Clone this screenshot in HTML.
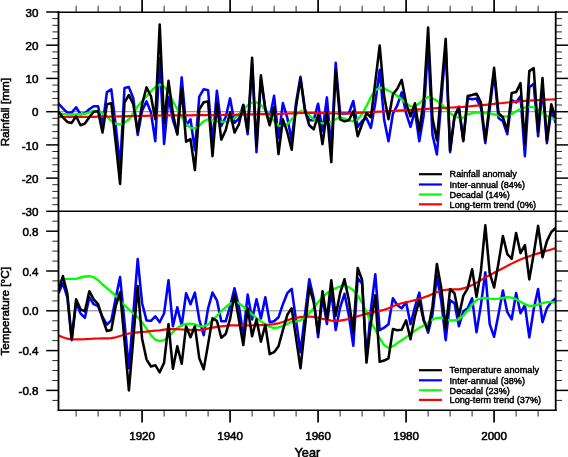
<!DOCTYPE html>
<html><head><meta charset="utf-8"><title>Rainfall and temperature decomposition</title>
<style>
html,body{margin:0;padding:0;background:#fff;}
body{width:568px;height:457px;overflow:hidden;font-family:"Liberation Sans",sans-serif;}
svg{display:block;will-change:transform;}
</style></head><body>
<svg width="568" height="457" viewBox="0 0 568 457">
<rect width="568" height="457" fill="#fff"/>
<line x1="58.5" y1="111.7" x2="555.7" y2="111.7" stroke="#808080" stroke-width="1.0"/>
<line x1="58.5" y1="310.8" x2="555.7" y2="310.8" stroke="#808080" stroke-width="1.0"/>
<clipPath id="c1"><rect x="58.5" y="12.0" width="497.2" height="199.3"/></clipPath>
<clipPath id="c2"><rect x="58.5" y="211.3" width="497.2" height="199.0"/></clipPath>
<g clip-path="url(#c1)">
<polyline points="58.5,103.7 62.9,108.3 67.3,112.6 71.7,112.6 76.1,107.3 80.5,114.3 84.9,113.3 89.3,109.3 93.7,106.3 98.1,106.3 102.5,125.9 106.9,92.1 111.3,89.4 115.7,125.4 120.1,166.5 124.5,88.1 128.9,87.1 133.3,98.2 137.7,134.9 142.1,110.7 146.5,101.4 150.9,112.2 155.3,141.2 159.7,58.2 164.1,143.9 168.5,97.0 172.9,120.0 177.3,133.3 181.7,77.4 186.1,125.5 190.5,119.3 194.9,150.2 199.3,96.7 203.7,89.2 208.1,90.2 212.5,144.1 216.9,90.7 221.3,125.9 225.7,117.0 230.1,98.4 234.5,122.8 238.9,118.6 243.3,104.8 247.7,134.2 252.1,63.9 256.5,152.2 260.9,79.4 265.3,108.8 269.7,118.1 274.1,95.7 278.5,137.9 282.9,103.0 287.3,117.8 291.7,140.6 296.1,102.2 300.5,76.8 304.9,108.9 309.3,120.2 313.7,120.2 318.1,103.7 322.5,131.1 326.9,97.4 331.3,150.8 335.7,62.8 340.1,113.6 344.5,113.5 348.9,113.3 353.3,101.0 357.7,127.0 362.1,121.0 366.5,118.2 370.9,127.9 375.3,102.7 379.7,69.8 384.1,119.5 388.5,141.2 392.9,113.7 397.3,105.3 401.7,92.4 406.1,113.2 410.5,126.9 414.9,110.7 419.3,141.2 423.7,115.2 428.1,45.1 432.5,134.7 436.9,154.5 441.3,100.5 445.7,46.1 450.1,152.2 454.5,116.3 458.9,106.6 463.3,140.1 467.7,98.2 472.1,99.2 476.5,98.6 480.9,107.7 485.3,143.2 489.7,109.0 494.1,72.9 498.5,117.9 502.9,121.3 507.3,134.2 511.7,100.0 516.1,102.4 520.5,96.2 524.9,156.2 529.3,87.2 533.7,83.8 538.1,136.2 542.5,88.2 546.9,143.2 551.3,110.2 555.7,122.9" fill="none" stroke="#0000ff" stroke-width="2.55" stroke-linejoin="round" stroke-linecap="butt"/>
<polyline points="58.5,113.3 62.9,114.0 67.3,114.3 71.7,114.5 76.1,114.3 80.5,114.0 84.9,113.6 89.3,112.3 93.7,111.0 98.1,111.3 102.5,113.3 106.9,116.6 111.3,121.0 115.7,123.9 120.1,124.3 124.5,122.6 128.9,119.3 133.3,113.3 137.7,106.3 142.1,101.0 146.5,96.4 150.9,91.4 155.3,87.1 159.7,84.4 164.1,86.7 168.5,91.7 172.9,101.4 177.3,109.3 181.7,117.3 186.1,124.3 190.5,127.9 194.9,128.3 199.3,125.6 203.7,121.3 208.1,119.3 212.5,120.3 216.9,121.3 221.3,121.9 225.7,121.6 230.1,121.0 234.5,118.3 238.9,114.3 243.3,109.3 247.7,105.3 252.1,102.7 256.5,102.3 260.9,105.0 265.3,109.7 269.7,116.3 274.1,121.3 278.5,125.6 282.9,125.9 287.3,124.3 291.7,119.3 296.1,114.3 300.5,111.3 304.9,111.7 309.3,115.3 313.7,119.3 318.1,122.3 322.5,123.3 326.9,122.6 331.3,121.3 335.7,119.3 340.1,117.3 344.5,118.6 348.9,120.3 353.3,121.3 357.7,119.6 362.1,114.0 366.5,106.0 370.9,97.0 375.3,90.4 379.7,87.7 384.1,88.4 388.5,90.7 392.9,93.0 397.3,96.0 401.7,99.4 406.1,103.3 410.5,106.3 414.9,106.3 419.3,103.3 423.7,99.4 428.1,97.0 432.5,98.4 436.9,100.7 441.3,104.3 445.7,108.3 450.1,113.3 454.5,116.0 458.9,118.0 463.3,117.6 467.7,114.6 472.1,113.0 476.5,112.6 480.9,112.6 485.3,113.0 489.7,113.3 494.1,114.3 498.5,115.3 502.9,116.3 507.3,116.3 511.7,114.3 516.1,111.3 520.5,109.0 524.9,107.3 529.3,106.7 533.7,107.3 538.1,109.7 542.5,113.3 546.9,116.0 551.3,118.0 555.7,119.3" fill="none" stroke="#00ff00" stroke-width="2.35" stroke-linejoin="round" stroke-linecap="butt"/>
<polyline points="58.5,117.0 62.9,117.0 67.3,116.9 71.7,116.9 76.1,116.9 80.5,116.9 84.9,116.8 89.3,116.8 93.7,116.8 98.1,116.7 102.5,116.7 106.9,116.6 111.3,116.6 115.7,116.5 120.1,116.4 124.5,116.3 128.9,116.2 133.3,116.1 137.7,116.0 142.1,115.9 146.5,115.8 150.9,115.7 155.3,115.6 159.7,115.5 164.1,115.4 168.5,115.3 172.9,115.3 177.3,115.3 181.7,115.3 186.1,115.3 190.5,115.3 194.9,115.2 199.3,115.2 203.7,115.2 208.1,115.2 212.5,115.1 216.9,115.1 221.3,115.0 225.7,114.9 230.1,114.8 234.5,114.8 238.9,114.7 243.3,114.6 247.7,114.4 252.1,114.4 256.5,114.3 260.9,114.2 265.3,114.2 269.7,114.1 274.1,114.1 278.5,114.0 282.9,113.7 287.3,113.5 291.7,113.3 296.1,113.1 300.5,113.0 304.9,113.0 309.3,113.0 313.7,113.0 318.1,113.1 322.5,113.1 326.9,113.2 331.3,113.3 335.7,113.5 340.1,113.6 344.5,113.5 348.9,113.3 353.3,113.1 357.7,112.9 362.1,112.6 366.5,112.4 370.9,112.2 375.3,111.9 379.7,111.7 384.1,111.5 388.5,111.2 392.9,111.0 397.3,110.7 401.7,110.4 406.1,110.1 410.5,109.9 414.9,109.6 419.3,109.3 423.7,109.1 428.1,108.8 432.5,108.5 436.9,108.2 441.3,108.0 445.7,107.8 450.1,107.5 454.5,107.3 458.9,107.0 463.3,106.8 467.7,106.5 472.1,106.1 476.5,105.7 480.9,105.3 485.3,104.8 489.7,104.3 494.1,103.9 498.5,103.4 502.9,103.0 507.3,102.5 511.7,102.1 516.1,101.6 520.5,101.2 524.9,100.9 529.3,100.6 533.7,100.3 538.1,100.1 542.5,99.9 546.9,99.7 551.3,99.5 555.7,99.4" fill="none" stroke="#ff0000" stroke-width="2.2" stroke-linejoin="round" stroke-linecap="butt"/>
<polyline points="58.5,111.7 62.9,117.3 67.3,121.9 71.7,122.9 76.1,116.3 80.5,125.3 84.9,123.6 89.3,117.3 93.7,111.7 98.1,111.3 102.5,132.6 106.9,104.3 111.3,103.3 115.7,142.5 120.1,183.9 124.5,102.3 128.9,95.0 133.3,104.3 137.7,131.6 142.1,104.3 146.5,87.4 150.9,96.0 155.3,119.3 159.7,24.6 164.1,123.3 168.5,80.8 172.9,113.3 177.3,134.6 181.7,88.4 186.1,141.7 190.5,139.2 194.9,170.1 199.3,109.3 203.7,102.3 208.1,101.4 212.5,156.2 216.9,103.3 221.3,139.6 225.7,130.3 230.1,112.3 234.5,132.6 238.9,124.3 243.3,105.3 247.7,131.2 252.1,57.7 256.5,146.2 260.9,75.3 265.3,109.3 269.7,125.3 274.1,107.3 278.5,154.2 282.9,119.3 287.3,132.2 291.7,149.8 296.1,106.3 300.5,78.9 304.9,110.3 309.3,125.3 313.7,129.3 318.1,115.3 322.5,144.2 326.9,112.0 331.3,162.1 335.7,70.3 340.1,119.3 344.5,121.3 348.9,120.3 353.3,111.3 357.7,136.2 362.1,124.3 366.5,113.3 370.9,117.3 375.3,81.8 379.7,45.5 384.1,96.0 388.5,119.3 392.9,94.4 397.3,88.7 401.7,79.8 406.1,103.3 410.5,116.3 414.9,103.3 419.3,130.9 423.7,100.4 428.1,27.6 432.5,118.3 436.9,140.2 441.3,89.6 445.7,38.9 450.1,150.2 454.5,116.3 458.9,108.3 463.3,141.2 467.7,96.0 472.1,95.0 476.5,93.7 480.9,102.3 485.3,140.2 489.7,103.3 494.1,67.8 498.5,113.3 502.9,117.3 507.3,130.3 511.7,93.0 516.1,92.1 520.5,83.1 524.9,144.2 529.3,71.1 533.7,68.1 538.1,131.6 542.5,78.1 546.9,140.2 551.3,104.3 555.7,118.3" fill="none" stroke="#000000" stroke-width="2.55" stroke-linejoin="round" stroke-linecap="butt"/>
</g>
<g clip-path="url(#c2)">
<polyline points="58.5,293.2 62.9,283.1 67.3,297.3 71.7,340.2 76.1,302.8 80.5,313.3 84.9,317.8 89.3,297.2 93.7,304.2 98.1,306.2 102.5,317.0 106.9,324.7 111.3,320.4 115.7,298.3 120.1,277.1 124.5,322.3 128.9,368.3 133.3,314.1 137.7,259.1 142.1,303.2 146.5,320.4 150.9,320.8 155.3,316.3 159.7,322.3 164.1,313.3 168.5,280.2 172.9,326.2 177.3,307.2 181.7,325.5 186.1,293.2 190.5,304.2 194.9,292.6 199.3,319.8 203.7,335.1 208.1,308.3 212.5,292.6 216.9,300.3 221.3,321.3 225.7,321.3 230.1,306.2 234.5,288.2 238.9,306.2 243.3,334.8 247.7,294.6 252.1,319.4 256.5,299.3 260.9,318.4 265.3,297.2 269.7,322.3 274.1,321.3 278.5,317.3 282.9,304.2 287.3,293.2 291.7,288.8 296.1,320.7 300.5,352.2 304.9,315.4 309.3,279.2 313.7,298.3 318.1,337.2 322.5,296.9 326.9,324.0 331.3,290.9 335.7,330.1 340.1,307.5 344.5,293.8 348.9,315.8 353.3,345.8 357.7,278.2 362.1,283.8 366.5,358.8 370.9,309.4 375.3,274.2 379.7,330.1 384.1,327.7 388.5,324.2 392.9,298.3 397.3,305.2 401.7,308.3 406.1,302.2 410.5,324.2 414.9,307.1 419.3,292.6 423.7,319.3 428.1,332.7 432.5,314.6 436.9,275.7 441.3,301.5 445.7,340.2 450.1,300.3 454.5,303.1 458.9,326.2 463.3,311.3 467.7,308.3 472.1,298.2 476.5,332.3 480.9,305.1 485.3,272.4 489.7,324.2 494.1,336.8 498.5,314.2 502.9,290.5 507.3,312.2 511.7,319.3 516.1,293.1 520.5,313.2 524.9,305.1 529.3,337.4 533.7,309.2 538.1,289.1 542.5,322.2 546.9,308.2 551.3,302.1 555.7,298.2" fill="none" stroke="#0000ff" stroke-width="2.55" stroke-linejoin="round" stroke-linecap="butt"/>
<polyline points="58.5,282.1 62.9,279.5 67.3,278.8 71.7,278.8 76.1,278.8 80.5,277.5 84.9,276.5 89.3,276.1 93.7,277.1 98.1,280.2 102.5,284.5 106.9,288.2 111.3,291.8 115.7,295.8 120.1,300.3 124.5,305.2 128.9,309.3 133.3,313.3 137.7,317.3 142.1,322.3 146.5,328.7 150.9,335.1 155.3,339.7 159.7,341.1 164.1,340.2 168.5,336.7 172.9,332.1 177.3,328.1 181.7,325.2 186.1,324.0 190.5,323.7 194.9,324.4 199.3,326.1 203.7,326.5 208.1,324.4 212.5,320.5 216.9,315.9 221.3,311.3 225.7,307.2 230.1,303.8 234.5,301.8 238.9,303.2 243.3,306.6 247.7,310.3 252.1,314.3 256.5,317.8 260.9,321.3 265.3,324.5 269.7,326.7 274.1,328.0 278.5,327.3 282.9,325.9 287.3,323.9 291.7,321.9 296.1,321.3 300.5,320.4 304.9,317.3 309.3,313.3 313.7,308.3 318.1,302.2 322.5,297.2 326.9,293.2 331.3,290.2 335.7,288.2 340.1,286.5 344.5,286.1 348.9,287.1 353.3,290.2 357.7,295.2 362.1,302.8 366.5,311.8 370.9,322.3 375.3,329.7 379.7,338.2 384.1,345.1 388.5,347.8 392.9,346.2 397.3,343.1 401.7,340.2 406.1,337.2 410.5,334.1 414.9,330.7 419.3,327.7 423.7,325.5 428.1,322.7 432.5,319.3 436.9,317.8 441.3,317.6 445.7,319.3 450.1,320.3 454.5,320.5 458.9,319.3 463.3,315.4 467.7,310.5 472.1,304.5 476.5,300.2 480.9,298.2 485.3,297.8 489.7,298.6 494.1,299.2 498.5,298.6 502.9,297.8 507.3,297.2 511.7,297.6 516.1,299.2 520.5,301.7 524.9,304.1 529.3,305.8 533.7,305.8 538.1,304.5 542.5,303.1 546.9,302.1 551.3,302.1 555.7,302.5" fill="none" stroke="#00ff00" stroke-width="2.35" stroke-linejoin="round" stroke-linecap="butt"/>
<polyline points="58.5,335.4 62.9,337.3 67.3,338.7 71.7,339.3 76.1,339.3 80.5,339.3 84.9,339.2 89.3,339.0 93.7,338.7 98.1,338.5 102.5,338.4 106.9,338.3 111.3,338.2 115.7,337.3 120.1,336.0 124.5,334.7 128.9,333.5 133.3,332.8 137.7,332.4 142.1,332.0 146.5,331.6 150.9,331.1 155.3,330.7 159.7,330.3 164.1,329.7 168.5,329.2 172.9,329.0 177.3,329.2 181.7,329.5 186.1,329.7 190.5,329.9 194.9,330.1 199.3,330.0 203.7,329.4 208.1,328.6 212.5,327.7 216.9,326.8 221.3,326.3 225.7,325.8 230.1,325.4 234.5,325.3 238.9,325.3 243.3,325.3 247.7,325.3 252.1,325.3 256.5,325.2 260.9,325.1 265.3,325.0 269.7,324.6 274.1,324.1 278.5,323.3 282.9,322.0 287.3,320.4 291.7,318.8 296.1,317.9 300.5,317.2 304.9,316.7 309.3,316.6 313.7,316.8 318.1,317.5 322.5,318.8 326.9,319.7 331.3,320.6 335.7,321.0 340.1,320.7 344.5,319.9 348.9,319.0 353.3,317.7 357.7,316.3 362.1,315.0 366.5,313.7 370.9,312.6 375.3,311.8 379.7,310.9 384.1,309.8 388.5,308.2 392.9,306.2 397.3,304.5 401.7,303.3 406.1,302.2 410.5,301.2 414.9,300.1 419.3,299.0 423.7,297.5 428.1,295.9 432.5,294.0 436.9,292.2 441.3,290.7 445.7,289.8 450.1,289.4 454.5,289.4 458.9,289.4 463.3,288.4 467.7,287.0 472.1,285.1 476.5,282.8 480.9,280.1 485.3,277.5 489.7,275.1 494.1,272.8 498.5,270.6 502.9,268.3 507.3,265.9 511.7,263.6 516.1,261.4 520.5,259.5 524.9,257.8 529.3,256.2 533.7,254.7 538.1,253.4 542.5,252.1 546.9,250.8 551.3,249.5 555.7,248.1" fill="none" stroke="#ff0000" stroke-width="2.2" stroke-linejoin="round" stroke-linecap="butt"/>
<polyline points="58.5,290.2 62.9,276.1 67.3,293.2 71.7,339.2 76.1,299.3 80.5,309.3 84.9,311.3 89.3,291.2 93.7,299.3 98.1,304.2 102.5,318.4 106.9,331.1 111.3,330.1 115.7,306.2 120.1,292.2 124.5,340.6 128.9,390.4 133.3,338.7 137.7,286.1 142.1,338.7 146.5,359.3 150.9,366.5 155.3,365.2 159.7,372.3 164.1,362.7 168.5,324.1 172.9,368.7 177.3,346.2 181.7,363.8 186.1,326.2 190.5,337.2 194.9,326.2 199.3,358.3 203.7,369.3 208.1,344.1 212.5,318.3 216.9,320.8 221.3,337.8 225.7,334.1 230.1,318.8 234.5,294.2 238.9,319.8 243.3,345.1 247.7,308.3 252.1,336.2 256.5,319.3 260.9,341.7 265.3,324.7 269.7,354.2 274.1,352.2 278.5,346.2 282.9,330.1 287.3,314.8 291.7,308.3 296.1,338.4 300.5,368.3 304.9,327.7 309.3,287.1 313.7,302.2 318.1,333.1 322.5,291.2 326.9,319.3 331.3,280.2 335.7,315.8 340.1,293.2 344.5,279.2 348.9,300.3 353.3,332.1 357.7,268.0 362.1,280.0 366.5,362.6 370.9,322.7 375.3,295.4 379.7,361.8 384.1,360.6 388.5,358.3 392.9,329.1 397.3,330.2 401.7,329.7 406.1,320.3 410.5,339.2 414.9,316.3 419.3,300.3 423.7,320.8 428.1,329.7 432.5,306.2 436.9,264.0 441.3,288.2 445.7,328.7 450.1,289.2 454.5,293.2 458.9,315.8 463.3,295.9 467.7,288.3 472.1,269.2 476.5,296.9 480.9,271.2 485.3,225.3 489.7,273.2 494.1,287.5 498.5,263.1 502.9,236.0 507.3,254.1 511.7,258.8 516.1,233.0 520.5,253.1 524.9,245.0 529.3,279.4 533.7,254.1 538.1,225.9 542.5,257.2 546.9,241.1 551.3,232.0 555.7,228.0" fill="none" stroke="#000000" stroke-width="2.55" stroke-linejoin="round" stroke-linecap="butt"/>
</g>
<line x1="57.6" y1="12.2" x2="556.6" y2="12.2" stroke="#000" stroke-width="1.5"/>
<line x1="57.6" y1="211.3" x2="556.6" y2="211.3" stroke="#000" stroke-width="1.5"/>
<line x1="57.6" y1="410.3" x2="556.6" y2="410.3" stroke="#000" stroke-width="1.5"/>
<line x1="58.5" y1="11.2" x2="58.5" y2="411.1" stroke="#000" stroke-width="1.8"/>
<line x1="555.7" y1="11.2" x2="555.7" y2="411.1" stroke="#000" stroke-width="1.8"/>
<line x1="76.1" y1="12.0" x2="76.1" y2="5.8" stroke="#000" stroke-width="0.85"/>
<line x1="76.1" y1="410.3" x2="76.1" y2="416.5" stroke="#000" stroke-width="0.85"/>
<line x1="98.1" y1="12.0" x2="98.1" y2="5.8" stroke="#000" stroke-width="0.85"/>
<line x1="98.1" y1="410.3" x2="98.1" y2="416.5" stroke="#000" stroke-width="0.85"/>
<line x1="120.1" y1="12.0" x2="120.1" y2="5.8" stroke="#000" stroke-width="0.85"/>
<line x1="120.1" y1="410.3" x2="120.1" y2="416.5" stroke="#000" stroke-width="0.85"/>
<line x1="142.1" y1="12.0" x2="142.1" y2="-0.3" stroke="#000" stroke-width="1.7"/>
<line x1="142.1" y1="410.3" x2="142.1" y2="422.6" stroke="#000" stroke-width="1.7"/>
<line x1="164.1" y1="12.0" x2="164.1" y2="5.8" stroke="#000" stroke-width="0.85"/>
<line x1="164.1" y1="410.3" x2="164.1" y2="416.5" stroke="#000" stroke-width="0.85"/>
<line x1="186.1" y1="12.0" x2="186.1" y2="5.8" stroke="#000" stroke-width="0.85"/>
<line x1="186.1" y1="410.3" x2="186.1" y2="416.5" stroke="#000" stroke-width="0.85"/>
<line x1="208.1" y1="12.0" x2="208.1" y2="5.8" stroke="#000" stroke-width="0.85"/>
<line x1="208.1" y1="410.3" x2="208.1" y2="416.5" stroke="#000" stroke-width="0.85"/>
<line x1="230.1" y1="12.0" x2="230.1" y2="-0.3" stroke="#000" stroke-width="1.7"/>
<line x1="230.1" y1="410.3" x2="230.1" y2="422.6" stroke="#000" stroke-width="1.7"/>
<line x1="252.1" y1="12.0" x2="252.1" y2="5.8" stroke="#000" stroke-width="0.85"/>
<line x1="252.1" y1="410.3" x2="252.1" y2="416.5" stroke="#000" stroke-width="0.85"/>
<line x1="274.1" y1="12.0" x2="274.1" y2="5.8" stroke="#000" stroke-width="0.85"/>
<line x1="274.1" y1="410.3" x2="274.1" y2="416.5" stroke="#000" stroke-width="0.85"/>
<line x1="296.1" y1="12.0" x2="296.1" y2="5.8" stroke="#000" stroke-width="0.85"/>
<line x1="296.1" y1="410.3" x2="296.1" y2="416.5" stroke="#000" stroke-width="0.85"/>
<line x1="318.1" y1="12.0" x2="318.1" y2="-0.3" stroke="#000" stroke-width="1.7"/>
<line x1="318.1" y1="410.3" x2="318.1" y2="422.6" stroke="#000" stroke-width="1.7"/>
<line x1="340.1" y1="12.0" x2="340.1" y2="5.8" stroke="#000" stroke-width="0.85"/>
<line x1="340.1" y1="410.3" x2="340.1" y2="416.5" stroke="#000" stroke-width="0.85"/>
<line x1="362.1" y1="12.0" x2="362.1" y2="5.8" stroke="#000" stroke-width="0.85"/>
<line x1="362.1" y1="410.3" x2="362.1" y2="416.5" stroke="#000" stroke-width="0.85"/>
<line x1="384.1" y1="12.0" x2="384.1" y2="5.8" stroke="#000" stroke-width="0.85"/>
<line x1="384.1" y1="410.3" x2="384.1" y2="416.5" stroke="#000" stroke-width="0.85"/>
<line x1="406.1" y1="12.0" x2="406.1" y2="-0.3" stroke="#000" stroke-width="1.7"/>
<line x1="406.1" y1="410.3" x2="406.1" y2="422.6" stroke="#000" stroke-width="1.7"/>
<line x1="428.1" y1="12.0" x2="428.1" y2="5.8" stroke="#000" stroke-width="0.85"/>
<line x1="428.1" y1="410.3" x2="428.1" y2="416.5" stroke="#000" stroke-width="0.85"/>
<line x1="450.1" y1="12.0" x2="450.1" y2="5.8" stroke="#000" stroke-width="0.85"/>
<line x1="450.1" y1="410.3" x2="450.1" y2="416.5" stroke="#000" stroke-width="0.85"/>
<line x1="472.1" y1="12.0" x2="472.1" y2="5.8" stroke="#000" stroke-width="0.85"/>
<line x1="472.1" y1="410.3" x2="472.1" y2="416.5" stroke="#000" stroke-width="0.85"/>
<line x1="494.1" y1="12.0" x2="494.1" y2="-0.3" stroke="#000" stroke-width="1.7"/>
<line x1="494.1" y1="410.3" x2="494.1" y2="422.6" stroke="#000" stroke-width="1.7"/>
<line x1="516.1" y1="12.0" x2="516.1" y2="5.8" stroke="#000" stroke-width="0.85"/>
<line x1="516.1" y1="410.3" x2="516.1" y2="416.5" stroke="#000" stroke-width="0.85"/>
<line x1="538.1" y1="12.0" x2="538.1" y2="5.8" stroke="#000" stroke-width="0.85"/>
<line x1="538.1" y1="410.3" x2="538.1" y2="416.5" stroke="#000" stroke-width="0.85"/>
<line x1="58.5" y1="211.3" x2="46.2" y2="211.3" stroke="#000" stroke-width="1.5"/>
<line x1="555.7" y1="211.3" x2="568.0" y2="211.3" stroke="#000" stroke-width="1.5"/>
<line x1="58.5" y1="204.7" x2="52.3" y2="204.7" stroke="#000" stroke-width="0.85"/>
<line x1="555.7" y1="204.7" x2="561.9" y2="204.7" stroke="#000" stroke-width="0.85"/>
<line x1="58.5" y1="198.0" x2="52.3" y2="198.0" stroke="#000" stroke-width="0.85"/>
<line x1="555.7" y1="198.0" x2="561.9" y2="198.0" stroke="#000" stroke-width="0.85"/>
<line x1="58.5" y1="191.4" x2="52.3" y2="191.4" stroke="#000" stroke-width="0.85"/>
<line x1="555.7" y1="191.4" x2="561.9" y2="191.4" stroke="#000" stroke-width="0.85"/>
<line x1="58.5" y1="184.7" x2="52.3" y2="184.7" stroke="#000" stroke-width="0.85"/>
<line x1="555.7" y1="184.7" x2="561.9" y2="184.7" stroke="#000" stroke-width="0.85"/>
<line x1="58.5" y1="178.1" x2="46.2" y2="178.1" stroke="#000" stroke-width="1.5"/>
<line x1="555.7" y1="178.1" x2="568.0" y2="178.1" stroke="#000" stroke-width="1.5"/>
<line x1="58.5" y1="171.4" x2="52.3" y2="171.4" stroke="#000" stroke-width="0.85"/>
<line x1="555.7" y1="171.4" x2="561.9" y2="171.4" stroke="#000" stroke-width="0.85"/>
<line x1="58.5" y1="164.8" x2="52.3" y2="164.8" stroke="#000" stroke-width="0.85"/>
<line x1="555.7" y1="164.8" x2="561.9" y2="164.8" stroke="#000" stroke-width="0.85"/>
<line x1="58.5" y1="158.2" x2="52.3" y2="158.2" stroke="#000" stroke-width="0.85"/>
<line x1="555.7" y1="158.2" x2="561.9" y2="158.2" stroke="#000" stroke-width="0.85"/>
<line x1="58.5" y1="151.5" x2="52.3" y2="151.5" stroke="#000" stroke-width="0.85"/>
<line x1="555.7" y1="151.5" x2="561.9" y2="151.5" stroke="#000" stroke-width="0.85"/>
<line x1="58.5" y1="144.9" x2="46.2" y2="144.9" stroke="#000" stroke-width="1.5"/>
<line x1="555.7" y1="144.9" x2="568.0" y2="144.9" stroke="#000" stroke-width="1.5"/>
<line x1="58.5" y1="138.2" x2="52.3" y2="138.2" stroke="#000" stroke-width="0.85"/>
<line x1="555.7" y1="138.2" x2="561.9" y2="138.2" stroke="#000" stroke-width="0.85"/>
<line x1="58.5" y1="131.6" x2="52.3" y2="131.6" stroke="#000" stroke-width="0.85"/>
<line x1="555.7" y1="131.6" x2="561.9" y2="131.6" stroke="#000" stroke-width="0.85"/>
<line x1="58.5" y1="124.9" x2="52.3" y2="124.9" stroke="#000" stroke-width="0.85"/>
<line x1="555.7" y1="124.9" x2="561.9" y2="124.9" stroke="#000" stroke-width="0.85"/>
<line x1="58.5" y1="118.3" x2="52.3" y2="118.3" stroke="#000" stroke-width="0.85"/>
<line x1="555.7" y1="118.3" x2="561.9" y2="118.3" stroke="#000" stroke-width="0.85"/>
<line x1="58.5" y1="111.7" x2="46.2" y2="111.7" stroke="#000" stroke-width="1.5"/>
<line x1="555.7" y1="111.7" x2="568.0" y2="111.7" stroke="#000" stroke-width="1.5"/>
<line x1="58.5" y1="105.0" x2="52.3" y2="105.0" stroke="#000" stroke-width="0.85"/>
<line x1="555.7" y1="105.0" x2="561.9" y2="105.0" stroke="#000" stroke-width="0.85"/>
<line x1="58.5" y1="98.4" x2="52.3" y2="98.4" stroke="#000" stroke-width="0.85"/>
<line x1="555.7" y1="98.4" x2="561.9" y2="98.4" stroke="#000" stroke-width="0.85"/>
<line x1="58.5" y1="91.7" x2="52.3" y2="91.7" stroke="#000" stroke-width="0.85"/>
<line x1="555.7" y1="91.7" x2="561.9" y2="91.7" stroke="#000" stroke-width="0.85"/>
<line x1="58.5" y1="85.1" x2="52.3" y2="85.1" stroke="#000" stroke-width="0.85"/>
<line x1="555.7" y1="85.1" x2="561.9" y2="85.1" stroke="#000" stroke-width="0.85"/>
<line x1="58.5" y1="78.4" x2="46.2" y2="78.4" stroke="#000" stroke-width="1.5"/>
<line x1="555.7" y1="78.4" x2="568.0" y2="78.4" stroke="#000" stroke-width="1.5"/>
<line x1="58.5" y1="71.8" x2="52.3" y2="71.8" stroke="#000" stroke-width="0.85"/>
<line x1="555.7" y1="71.8" x2="561.9" y2="71.8" stroke="#000" stroke-width="0.85"/>
<line x1="58.5" y1="65.1" x2="52.3" y2="65.1" stroke="#000" stroke-width="0.85"/>
<line x1="555.7" y1="65.1" x2="561.9" y2="65.1" stroke="#000" stroke-width="0.85"/>
<line x1="58.5" y1="58.5" x2="52.3" y2="58.5" stroke="#000" stroke-width="0.85"/>
<line x1="555.7" y1="58.5" x2="561.9" y2="58.5" stroke="#000" stroke-width="0.85"/>
<line x1="58.5" y1="51.9" x2="52.3" y2="51.9" stroke="#000" stroke-width="0.85"/>
<line x1="555.7" y1="51.9" x2="561.9" y2="51.9" stroke="#000" stroke-width="0.85"/>
<line x1="58.5" y1="45.2" x2="46.2" y2="45.2" stroke="#000" stroke-width="1.5"/>
<line x1="555.7" y1="45.2" x2="568.0" y2="45.2" stroke="#000" stroke-width="1.5"/>
<line x1="58.5" y1="38.6" x2="52.3" y2="38.6" stroke="#000" stroke-width="0.85"/>
<line x1="555.7" y1="38.6" x2="561.9" y2="38.6" stroke="#000" stroke-width="0.85"/>
<line x1="58.5" y1="31.9" x2="52.3" y2="31.9" stroke="#000" stroke-width="0.85"/>
<line x1="555.7" y1="31.9" x2="561.9" y2="31.9" stroke="#000" stroke-width="0.85"/>
<line x1="58.5" y1="25.3" x2="52.3" y2="25.3" stroke="#000" stroke-width="0.85"/>
<line x1="555.7" y1="25.3" x2="561.9" y2="25.3" stroke="#000" stroke-width="0.85"/>
<line x1="58.5" y1="18.6" x2="52.3" y2="18.6" stroke="#000" stroke-width="0.85"/>
<line x1="555.7" y1="18.6" x2="561.9" y2="18.6" stroke="#000" stroke-width="0.85"/>
<line x1="58.5" y1="12.0" x2="46.2" y2="12.0" stroke="#000" stroke-width="1.5"/>
<line x1="555.7" y1="12.0" x2="568.0" y2="12.0" stroke="#000" stroke-width="1.5"/>
<line x1="58.5" y1="400.4" x2="52.3" y2="400.4" stroke="#000" stroke-width="0.85"/>
<line x1="555.7" y1="400.4" x2="561.9" y2="400.4" stroke="#000" stroke-width="0.85"/>
<line x1="58.5" y1="390.4" x2="46.2" y2="390.4" stroke="#000" stroke-width="1.5"/>
<line x1="555.7" y1="390.4" x2="568.0" y2="390.4" stroke="#000" stroke-width="1.5"/>
<line x1="58.5" y1="380.5" x2="52.3" y2="380.5" stroke="#000" stroke-width="0.85"/>
<line x1="555.7" y1="380.5" x2="561.9" y2="380.5" stroke="#000" stroke-width="0.85"/>
<line x1="58.5" y1="370.5" x2="52.3" y2="370.5" stroke="#000" stroke-width="0.85"/>
<line x1="555.7" y1="370.5" x2="561.9" y2="370.5" stroke="#000" stroke-width="0.85"/>
<line x1="58.5" y1="360.6" x2="52.3" y2="360.6" stroke="#000" stroke-width="0.85"/>
<line x1="555.7" y1="360.6" x2="561.9" y2="360.6" stroke="#000" stroke-width="0.85"/>
<line x1="58.5" y1="350.6" x2="46.2" y2="350.6" stroke="#000" stroke-width="1.5"/>
<line x1="555.7" y1="350.6" x2="568.0" y2="350.6" stroke="#000" stroke-width="1.5"/>
<line x1="58.5" y1="340.6" x2="52.3" y2="340.6" stroke="#000" stroke-width="0.85"/>
<line x1="555.7" y1="340.6" x2="561.9" y2="340.6" stroke="#000" stroke-width="0.85"/>
<line x1="58.5" y1="330.7" x2="52.3" y2="330.7" stroke="#000" stroke-width="0.85"/>
<line x1="555.7" y1="330.7" x2="561.9" y2="330.7" stroke="#000" stroke-width="0.85"/>
<line x1="58.5" y1="320.8" x2="52.3" y2="320.8" stroke="#000" stroke-width="0.85"/>
<line x1="555.7" y1="320.8" x2="561.9" y2="320.8" stroke="#000" stroke-width="0.85"/>
<line x1="58.5" y1="310.8" x2="46.2" y2="310.8" stroke="#000" stroke-width="1.5"/>
<line x1="555.7" y1="310.8" x2="568.0" y2="310.8" stroke="#000" stroke-width="1.5"/>
<line x1="58.5" y1="300.9" x2="52.3" y2="300.9" stroke="#000" stroke-width="0.85"/>
<line x1="555.7" y1="300.9" x2="561.9" y2="300.9" stroke="#000" stroke-width="0.85"/>
<line x1="58.5" y1="290.9" x2="52.3" y2="290.9" stroke="#000" stroke-width="0.85"/>
<line x1="555.7" y1="290.9" x2="561.9" y2="290.9" stroke="#000" stroke-width="0.85"/>
<line x1="58.5" y1="280.9" x2="52.3" y2="280.9" stroke="#000" stroke-width="0.85"/>
<line x1="555.7" y1="280.9" x2="561.9" y2="280.9" stroke="#000" stroke-width="0.85"/>
<line x1="58.5" y1="271.0" x2="46.2" y2="271.0" stroke="#000" stroke-width="1.5"/>
<line x1="555.7" y1="271.0" x2="568.0" y2="271.0" stroke="#000" stroke-width="1.5"/>
<line x1="58.5" y1="261.1" x2="52.3" y2="261.1" stroke="#000" stroke-width="0.85"/>
<line x1="555.7" y1="261.1" x2="561.9" y2="261.1" stroke="#000" stroke-width="0.85"/>
<line x1="58.5" y1="251.1" x2="52.3" y2="251.1" stroke="#000" stroke-width="0.85"/>
<line x1="555.7" y1="251.1" x2="561.9" y2="251.1" stroke="#000" stroke-width="0.85"/>
<line x1="58.5" y1="241.2" x2="52.3" y2="241.2" stroke="#000" stroke-width="0.85"/>
<line x1="555.7" y1="241.2" x2="561.9" y2="241.2" stroke="#000" stroke-width="0.85"/>
<line x1="58.5" y1="231.2" x2="46.2" y2="231.2" stroke="#000" stroke-width="1.5"/>
<line x1="555.7" y1="231.2" x2="568.0" y2="231.2" stroke="#000" stroke-width="1.5"/>
<line x1="58.5" y1="221.2" x2="52.3" y2="221.2" stroke="#000" stroke-width="0.85"/>
<line x1="555.7" y1="221.2" x2="561.9" y2="221.2" stroke="#000" stroke-width="0.85"/>
<text x="38.5" y="215.9" font-family="Liberation Sans, sans-serif" font-size="11.6" text-anchor="end" fill="#000" stroke="#000" stroke-width="0.55" >-30</text>
<text x="38.5" y="182.7" font-family="Liberation Sans, sans-serif" font-size="11.6" text-anchor="end" fill="#000" stroke="#000" stroke-width="0.55" >-20</text>
<text x="38.5" y="149.5" font-family="Liberation Sans, sans-serif" font-size="11.6" text-anchor="end" fill="#000" stroke="#000" stroke-width="0.55" >-10</text>
<text x="38.5" y="116.2" font-family="Liberation Sans, sans-serif" font-size="11.6" text-anchor="end" fill="#000" stroke="#000" stroke-width="0.55" >0</text>
<text x="38.5" y="83.0" font-family="Liberation Sans, sans-serif" font-size="11.6" text-anchor="end" fill="#000" stroke="#000" stroke-width="0.55" >10</text>
<text x="38.5" y="49.8" font-family="Liberation Sans, sans-serif" font-size="11.6" text-anchor="end" fill="#000" stroke="#000" stroke-width="0.55" >20</text>
<text x="38.5" y="16.6" font-family="Liberation Sans, sans-serif" font-size="11.6" text-anchor="end" fill="#000" stroke="#000" stroke-width="0.55" >30</text>
<text x="38.5" y="235.8" font-family="Liberation Sans, sans-serif" font-size="11.6" text-anchor="end" fill="#000" stroke="#000" stroke-width="0.55" >0.8</text>
<text x="38.5" y="275.6" font-family="Liberation Sans, sans-serif" font-size="11.6" text-anchor="end" fill="#000" stroke="#000" stroke-width="0.55" >0.4</text>
<text x="38.5" y="315.4" font-family="Liberation Sans, sans-serif" font-size="11.6" text-anchor="end" fill="#000" stroke="#000" stroke-width="0.55" >0.0</text>
<text x="38.5" y="355.2" font-family="Liberation Sans, sans-serif" font-size="11.6" text-anchor="end" fill="#000" stroke="#000" stroke-width="0.55" >-0.4</text>
<text x="38.5" y="395.0" font-family="Liberation Sans, sans-serif" font-size="11.6" text-anchor="end" fill="#000" stroke="#000" stroke-width="0.55" >-0.8</text>
<text x="142.1" y="439.9" font-family="Liberation Sans, sans-serif" font-size="11.6" text-anchor="middle" fill="#000" stroke="#000" stroke-width="0.55" >1920</text>
<text x="230.1" y="439.9" font-family="Liberation Sans, sans-serif" font-size="11.6" text-anchor="middle" fill="#000" stroke="#000" stroke-width="0.55" >1940</text>
<text x="318.1" y="439.9" font-family="Liberation Sans, sans-serif" font-size="11.6" text-anchor="middle" fill="#000" stroke="#000" stroke-width="0.55" >1960</text>
<text x="406.1" y="439.9" font-family="Liberation Sans, sans-serif" font-size="11.6" text-anchor="middle" fill="#000" stroke="#000" stroke-width="0.55" >1980</text>
<text x="494.1" y="439.9" font-family="Liberation Sans, sans-serif" font-size="11.6" text-anchor="middle" fill="#000" stroke="#000" stroke-width="0.55" >2000</text>
<text x="307.4" y="457.0" font-family="Liberation Sans, sans-serif" font-size="12.7" text-anchor="middle" fill="#000" stroke="#000" stroke-width="0.55" >Year</text>
<text x="0.0" y="0.0" font-family="Liberation Sans, sans-serif" font-size="11.7" text-anchor="middle" fill="#000" stroke="#000" stroke-width="0.55" transform="translate(9.1,112.2) rotate(-90)">Rainfall [mm]</text>
<text x="0.0" y="0.0" font-family="Liberation Sans, sans-serif" font-size="11.7" text-anchor="middle" fill="#000" stroke="#000" stroke-width="0.55" transform="translate(9.1,311.3) rotate(-90)">Temperature [&#176;C]</text>
<line x1="418.9" y1="174.2" x2="441.9" y2="174.2" stroke="#000000" stroke-width="2.2"/>
<text x="449.6" y="177.4" font-family="Liberation Sans, sans-serif" font-size="9.1" text-anchor="start" fill="#000" stroke="#000" stroke-width="0.45" >Rainfall anomaly</text>
<line x1="418.9" y1="184.5" x2="441.9" y2="184.5" stroke="#0000ff" stroke-width="2.2"/>
<text x="449.6" y="187.7" font-family="Liberation Sans, sans-serif" font-size="9.1" text-anchor="start" fill="#000" stroke="#000" stroke-width="0.45" >Inter-annual (84%)</text>
<line x1="418.9" y1="194.5" x2="441.9" y2="194.5" stroke="#00ff00" stroke-width="2.2"/>
<text x="449.6" y="197.7" font-family="Liberation Sans, sans-serif" font-size="9.1" text-anchor="start" fill="#000" stroke="#000" stroke-width="0.45" >Decadal (14%)</text>
<line x1="418.9" y1="204.3" x2="441.9" y2="204.3" stroke="#ff0000" stroke-width="2.2"/>
<text x="449.6" y="207.5" font-family="Liberation Sans, sans-serif" font-size="9.1" text-anchor="start" fill="#000" stroke="#000" stroke-width="0.45" >Long-term trend (0%)</text>
<line x1="418.9" y1="370.2" x2="441.9" y2="370.2" stroke="#000000" stroke-width="2.2"/>
<text x="449.6" y="373.4" font-family="Liberation Sans, sans-serif" font-size="9.1" text-anchor="start" fill="#000" stroke="#000" stroke-width="0.45" letter-spacing="0.09">Temperature anomaly</text>
<line x1="418.9" y1="380.3" x2="441.9" y2="380.3" stroke="#0000ff" stroke-width="2.2"/>
<text x="449.6" y="383.5" font-family="Liberation Sans, sans-serif" font-size="9.1" text-anchor="start" fill="#000" stroke="#000" stroke-width="0.45" >Inter-annual (38%)</text>
<line x1="418.9" y1="390.3" x2="441.9" y2="390.3" stroke="#00ff00" stroke-width="2.2"/>
<text x="449.6" y="393.5" font-family="Liberation Sans, sans-serif" font-size="9.1" text-anchor="start" fill="#000" stroke="#000" stroke-width="0.45" >Decadal (23%)</text>
<line x1="418.9" y1="399.9" x2="441.9" y2="399.9" stroke="#ff0000" stroke-width="2.2"/>
<text x="449.6" y="403.1" font-family="Liberation Sans, sans-serif" font-size="9.1" text-anchor="start" fill="#000" stroke="#000" stroke-width="0.45" >Long-term trend (37%)</text>
</svg>
</body></html>
